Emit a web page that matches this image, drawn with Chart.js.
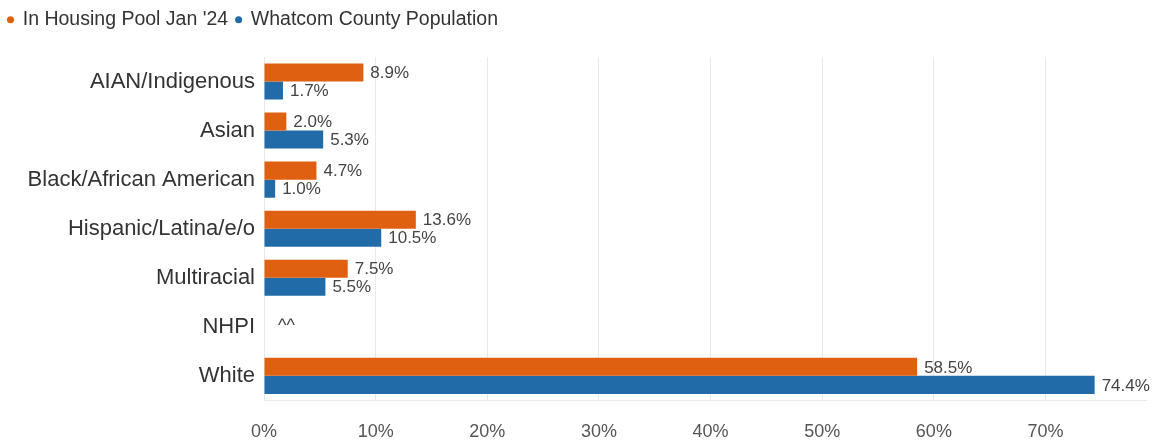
<!DOCTYPE html>
<html>
<head>
<meta charset="utf-8">
<script src="https://cdn.jsdelivr.net/npm/chart.js@4"></script>
<style>
  html, body { margin: 0; padding: 0; background: #fff; }
  #wrap { width: 1155px; height: 443px; position: relative; }
</style>
</head>
<body>
<div id="wrap"><canvas id="chart"></canvas></div>
<script>
const categories = ['AIAN/Indigenous', 'Asian', 'Black/African American', 'Hispanic/Latina/e/o', 'Multiracial', 'NHPI', 'White'];
const housingPool = [8.9, 2.0, 4.7, 13.6, 7.5, null, 58.5];
const countyPopulation = [1.7, 5.3, 1.0, 10.5, 5.5, null, 74.4];
const suppressedMark = '^^';

const orange = '#df6010';
const blue = '#216ca8';
const fontFamily = '"Liberation Sans", Arial, sans-serif';

// value labels at the end of each bar, and the suppressed-data mark for empty rows
const barLabels = {
  id: 'barLabels',
  afterDatasetsDraw(chart) {
    const ctx = chart.ctx;
    ctx.save();
    ctx.font = '17px ' + fontFamily;
    ctx.fillStyle = '#444';
    ctx.textAlign = 'left';
    ctx.textBaseline = 'middle';
    chart.data.datasets.forEach((ds, i) => {
      chart.getDatasetMeta(i).data.forEach((bar, j) => {
        const v = ds.data[j];
        if (v === null) return;
        ctx.fillText(v.toFixed(1) + '%', bar.x + 7, bar.y + 1);
      });
    });
    const xs = chart.scales.x, ys = chart.scales.y;
    ctx.font = '18px ' + fontFamily;
    categories.forEach((c, j) => {
      if (housingPool[j] === null && countyPopulation[j] === null) {
        ctx.fillText(suppressedMark, xs.getPixelForValue(0) + 14, ys.getPixelForValue(j) - 1);
      }
    });
    ctx.restore();
  }
};

// extra room under the legend
const legendGap = {
  id: 'legendGap',
  beforeInit(chart) {
    const fit = chart.legend.fit;
    chart.legend.fit = function () {
      fit.bind(chart.legend)();
      this.height += 17.5;
    };
  }
};

new Chart(document.getElementById('chart'), {
  type: 'bar',
  data: {
    labels: categories,
    datasets: [
      { label: "In Housing Pool Jan '24", data: housingPool, backgroundColor: orange },
      { label: 'Whatcom County Population', data: countyPopulation, backgroundColor: blue }
    ]
  },
  options: {
    indexAxis: 'y',
    responsive: true,
    maintainAspectRatio: false,
    animation: false,
    categoryPercentage: 0.735,
    barPercentage: 1,
    layout: { padding: { top: 2, right: 9, left: 0, bottom: -21 } },
    plugins: {
      legend: {
        position: 'top',
        align: 'start',
        labels: {
          usePointStyle: true,
          pointStyle: 'circle',
          boxWidth: 5,
          boxHeight: 5,
          padding: 8,
          color: '#333',
          font: { family: fontFamily, size: 19.5 }
        }
      },
      tooltip: { enabled: false }
    },
    scales: {
      x: {
        min: 0,
        max: 79,
        grid: { color: '#e9e9e9', drawTicks: false },
        border: { color: '#e9e9e9' },
        ticks: {
          stepSize: 10,
          includeBounds: false,
          padding: 21,
          color: '#555',
          font: { family: fontFamily, size: 18 },
          callback: v => v + '%'
        }
      },
      y: {
        grid: { display: false, drawTicks: false },
        border: { display: false },
        ticks: {
          padding: 9,
          color: '#333',
          font: { family: fontFamily, size: 22 }
        },
        afterFit(scale) { scale.width = 264; }
      }
    }
  },
  plugins: [barLabels, legendGap]
});
</script>
</body>
</html>
